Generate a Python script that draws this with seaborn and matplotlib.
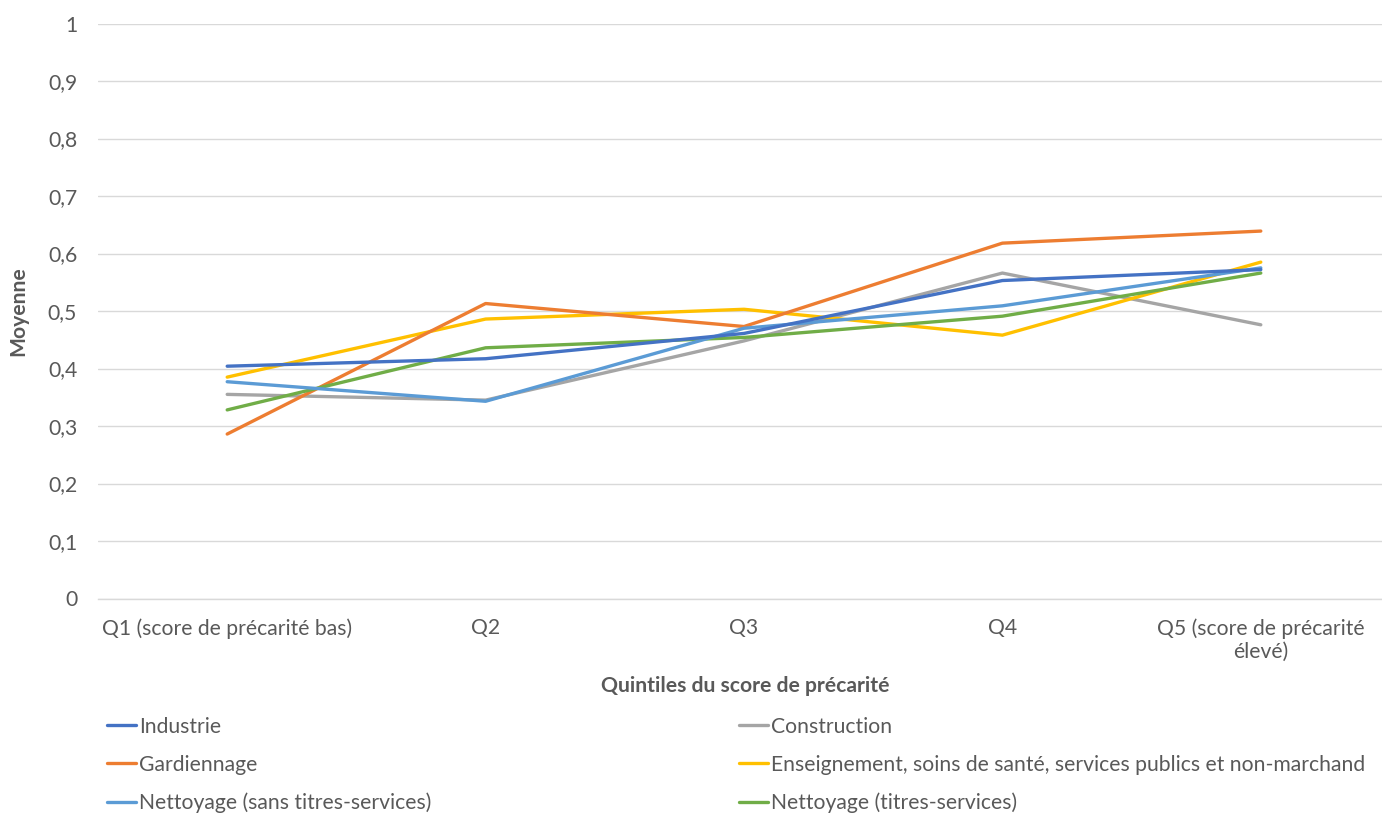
import matplotlib
matplotlib.use("Agg")
import matplotlib.pyplot as plt
import seaborn as sns
import pandas as pd

# Quintile categories along the x axis
quintiles = [
    "Q1 (score de précarité bas)",
    "Q2",
    "Q3",
    "Q4",
    "Q5 (score de précarité\nélevé)",
]

# Mean value per sector and quintile
industrie = [0.404, 0.417, 0.461, 0.553, 0.572]
gardiennage = [0.286, 0.513, 0.473, 0.618, 0.639]
nettoyage_sans_ts = [0.377, 0.343, 0.470, 0.509, 0.575]
construction = [0.355, 0.345, 0.448, 0.566, 0.476]
enseignement = [0.385, 0.486, 0.503, 0.458, 0.585]
nettoyage_ts = [0.328, 0.436, 0.454, 0.491, 0.566]

series = {
    "Industrie": industrie,
    "Gardiennage": gardiennage,
    "Nettoyage (sans titres-services)": nettoyage_sans_ts,
    "Construction": construction,
    "Enseignement, soins de santé, services publics et non-marchand": enseignement,
    "Nettoyage (titres-services)": nettoyage_ts,
}
colors = {
    "Industrie": "#4472C4",
    "Gardiennage": "#ED7D31",
    "Nettoyage (sans titres-services)": "#5B9BD5",
    "Construction": "#A5A5A5",
    "Enseignement, soins de santé, services publics et non-marchand": "#FFC000",
    "Nettoyage (titres-services)": "#70AD47",
}
# drawing order (later ones on top)
draw_order = [
    "Construction",
    "Enseignement, soins de santé, services publics et non-marchand",
    "Gardiennage",
    "Nettoyage (titres-services)",
    "Nettoyage (sans titres-services)",
    "Industrie",
]

rows = []
for name, vals in series.items():
    for i, v in enumerate(vals):
        rows.append({"secteur": name, "pos": i, "moyenne": v})
df = pd.DataFrame(rows)

sns.set_theme(style="white")
plt.rcParams["font.family"] = ["Lato", "DejaVu Sans"]
text_color = "#595959"
fs = 15.2

W, H = 1382, 814
fig = plt.figure(figsize=(W / 100, H / 100), dpi=100)
left_px, right_px, top_px, bottom_px = 98, 1390, 23.5, 598.5
ax = fig.add_axes([left_px / W, 1 - bottom_px / H,
                   (right_px - left_px) / W, (bottom_px - top_px) / H])

handles = {}
for name in draw_order:
    sub = df[df["secteur"] == name]
    sns.lineplot(data=sub, x="pos", y="moyenne", ax=ax, color=colors[name],
                 linewidth=2.4, legend=False, solid_capstyle="round")
    handles[name] = ax.lines[-1]

ax.set_xlim(-0.5, 4.5)
ax.set_ylim(0, 1)
ax.set_yticks([i / 10 for i in range(11)])
ax.set_yticklabels(["0"] + [f"0,{i}" for i in range(1, 10)] + ["1"])
ax.set_xticks(range(len(quintiles)))
ax.set_xticklabels(quintiles)
ax.tick_params(axis="both", length=0, labelsize=fs, colors=text_color)
ax.tick_params(axis="x", pad=14)
ax.tick_params(axis="y", pad=15)
ax.grid(axis="y", color="#D9D9D9", linewidth=1)
ax.set_axisbelow(True)
for side in ["top", "right", "left"]:
    ax.spines[side].set_visible(False)
ax.spines["bottom"].set_color("#D9D9D9")
ax.spines["bottom"].set_linewidth(1)

ax.set_xlabel("Quintiles du score de précarité", fontsize=fs,
              fontweight="bold", color=text_color)
ax.set_ylabel("Moyenne", fontsize=fs, fontweight="bold", color=text_color)
ax.xaxis.set_label_coords((745 - left_px) / (right_px - left_px),
                          -(676 - bottom_px) / (bottom_px - top_px))
ax.yaxis.set_label_coords(-(98 - 28) / (right_px - left_px), 0.5)

leg_kw = dict(frameon=False, fontsize=fs, handlelength=1.4,
              handletextpad=0.15, labelspacing=0.86, borderpad=0,
              labelcolor=text_color, loc="upper left")
col1 = ["Industrie", "Gardiennage", "Nettoyage (sans titres-services)"]
col2 = ["Construction",
        "Enseignement, soins de santé, services publics et non-marchand",
        "Nettoyage (titres-services)"]
leg1 = fig.legend([handles[n] for n in col1], col1,
                  bbox_to_anchor=(96 / W, 1 - 706 / H), **leg_kw)
leg2 = fig.legend([handles[n] for n in col2], col2,
                  bbox_to_anchor=(728 / W, 1 - 706 / H), **leg_kw)

fig.savefig("out.png", dpi=100, facecolor="white")
